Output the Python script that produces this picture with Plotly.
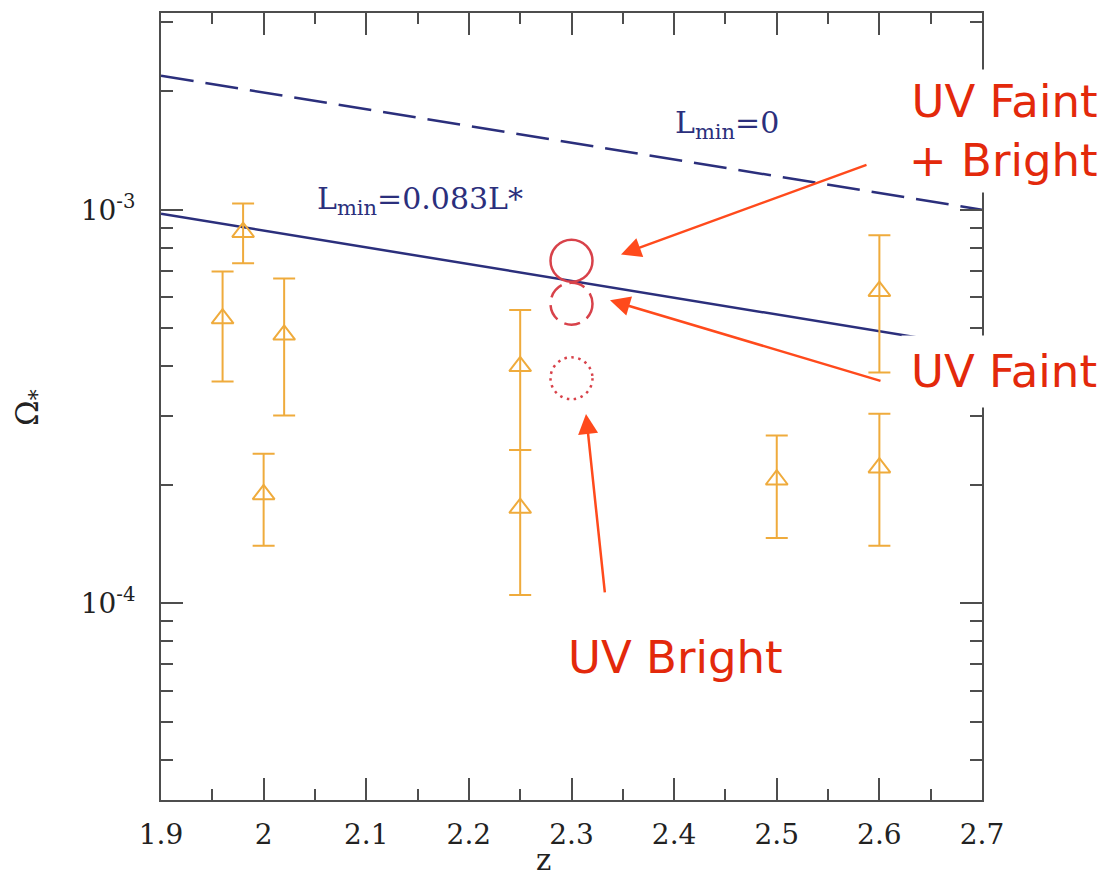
import plotly.graph_objects as go

# Stellar mass density measurements: redshift, Omega_*, and error-bar extents
obs_z = [1.96, 1.98, 2.00, 2.02, 2.25, 2.25, 2.50, 2.60, 2.60]
obs_omega = [5.29e-4, 8.77e-4, 1.89e-4, 4.81e-4, 4.00e-4, 1.745e-4, 2.06e-4, 6.21e-4, 2.21e-4]
obs_upper = [6.97e-4, 1.037e-3, 2.40e-4, 6.69e-4, 5.56e-4, 2.45e-4, 2.67e-4, 8.62e-4, 3.03e-4]
obs_lower = [3.66e-4, 7.31e-4, 1.40e-4, 3.00e-4, 2.45e-4, 1.05e-4, 1.466e-4, 3.86e-4, 1.40e-4]

# Model curves
model_z = [1.9, 2.7]
omega_lmin_0 = [2.19e-3, 1.00e-3]
omega_lmin_083 = [9.77e-4, 4.45e-4]

# UV-selected samples at z = 2.3
uv_z = 2.3
uv_faint_bright = 7.42e-4
uv_faint = 5.77e-4
uv_bright = 3.73e-4

# Axis ticks
x_tickvals = [1.9, 2.0, 2.1, 2.2, 2.3, 2.4, 2.5, 2.6, 2.7]
x_ticktext = ["1.9", "2", "2.1", "2.2", "2.3", "2.4", "2.5", "2.6", "2.7"]
x_minor = [1.95, 2.05, 2.15, 2.25, 2.35, 2.45, 2.55, 2.65]
y_tickvals = [1e-4, 1e-3]
y_ticktext = ["10<sup>-4</sup>", "10<sup>-3</sup>"]
y_minor = [4e-5, 5e-5, 6e-5, 7e-5, 8e-5, 9e-5,
           2e-4, 3e-4, 4e-4, 5e-4, 6e-4, 7e-4, 8e-4, 9e-4,
           2e-3, 3e-3]

NAVY = "#2b2f7c"
ORANGE = "#efab3c"
CIRCLE_RED = "#d8424a"
TEXT_RED = "#e3290b"
ARROW_RED = "#ff4a1c"
FRAME = "#4d4d4d"
SERIF = "DejaVu Serif"
SANS = "DejaVu Sans"

W, H = 1107, 879
L, R, T, B = 161, 125, 11, 79
Y_LOG_RANGE = [-4.5, -2.5]
CIRCLE_R = 21  # circle radius, px


def px_x(p):
    return (p - L) / (W - L - R)


def px_y(p):
    return (H - B - p) / (H - T - B)


# pixels per decade on the log y axis, used to size the circles in data units
decade_px = (H - T - B) / (Y_LOG_RANGE[1] - Y_LOG_RANGE[0])
circle_factor = 10 ** (CIRCLE_R / decade_px)

err_plus = [u - v for u, v in zip(obs_upper, obs_omega)]
err_minus = [v - d for v, d in zip(obs_omega, obs_lower)]

fig = go.Figure()

fig.add_trace(go.Scatter(
    x=model_z, y=omega_lmin_0, mode="lines",
    line=dict(color=NAVY, width=2.5, dash="33px,12px"),
    hoverinfo="skip", showlegend=False,
))
fig.add_trace(go.Scatter(
    x=model_z, y=omega_lmin_083, mode="lines",
    line=dict(color=NAVY, width=2.5),
    hoverinfo="skip", showlegend=False,
))
fig.add_trace(go.Scatter(
    x=obs_z, y=obs_omega, mode="markers",
    marker=dict(symbol="triangle-up-open", size=19, color=ORANGE,
                line=dict(color=ORANGE, width=2)),
    error_y=dict(type="data", symmetric=False, array=err_plus,
                 arrayminus=err_minus, color=ORANGE, thickness=2, width=11),
    showlegend=False,
))

# UV sample circles centred on their data values
for val, dash in [(uv_faint_bright, "solid"), (uv_faint, "16px,8px"),
                  (uv_bright, "2.5px,4.5px")]:
    fig.add_shape(
        type="circle", xref="x", yref="y",
        xsizemode="pixel", xanchor=uv_z,
        x0=-CIRCLE_R, x1=CIRCLE_R,
        y0=val / circle_factor, y1=val * circle_factor,
        line=dict(color=CIRCLE_RED, width=2.5, dash=dash),
    )

annotations = [
    # model labels
    dict(text="L<sub>min</sub>=0", x=px_x(673), y=px_y(123),
         xanchor="left", yanchor="middle",
         font=dict(family=SERIF, size=30, color=NAVY)),
    dict(text="L<sub>min</sub>=0.083L*", x=px_x(315), y=px_y(199),
         xanchor="left", yanchor="middle",
         font=dict(family=SERIF, size=30, color=NAVY)),
    # axis titles
    dict(text="z", x=px_x(543), y=0, yshift=-B,
         xanchor="center", yanchor="bottom",
         font=dict(family=SERIF, size=29, color="#222222")),
    dict(text="Ω<sub>*</sub>", x=px_x(30), y=px_y(407), textangle=-90,
         xanchor="center", yanchor="middle",
         font=dict(family=SERIF, size=31, color="#222222")),
    # sample labels
    dict(text="UV Faint<br>+ Bright", x=px_x(1003), y=px_y(129),
         xanchor="center", yanchor="middle", align="right",
         bgcolor="white", borderpad=5,
         font=dict(family=SANS, size=45, color=TEXT_RED)),
    dict(text="UV Faint", x=px_x(1004), y=px_y(370),
         xanchor="center", yanchor="middle",
         bgcolor="white", borderpad=9,
         font=dict(family=SANS, size=45, color=TEXT_RED)),
    dict(text="UV Bright", x=px_x(675), y=px_y(657),
         xanchor="center", yanchor="middle",
         font=dict(family=SANS, size=45, color=TEXT_RED)),
]

# pointer arrows: (tip x, tip y, tail offset x, tail offset y) in pixels
arrows = [(621, 253, 247, -90), (610, 299, 272, 81), (586, 413, 19, 180)]
for tx, ty, ax, ay in arrows:
    annotations.append(dict(
        text="", x=px_x(tx), y=px_y(ty), ax=ax, ay=ay,
        showarrow=True, arrowhead=2, arrowsize=1.6, arrowwidth=2.5,
        arrowcolor=ARROW_RED, standoff=0,
    ))

for a in annotations:
    a.setdefault("xref", "paper")
    a.setdefault("yref", "paper")
    a.setdefault("showarrow", False)

axis_common = dict(
    showline=True, linecolor=FRAME, linewidth=2, mirror="allticks",
    ticks="inside", tickcolor=FRAME, tickwidth=2, ticklen=22,
    showgrid=False, zeroline=False,
    tickfont=dict(family=SERIF, size=28, color="#222222"),
)

fig.update_layout(
    width=W, height=H,
    margin=dict(l=L, r=R, t=T, b=B),
    paper_bgcolor="white", plot_bgcolor="white",
    showlegend=False,
    xaxis=dict(
        range=[1.9, 2.7], tickmode="array",
        tickvals=x_tickvals, ticktext=x_ticktext,
        minor=dict(ticks="inside", ticklen=11, tickwidth=2, tickcolor=FRAME,
                   tickmode="array", tickvals=x_minor, showgrid=False),
        ticklabelstandoff=8,
        **axis_common,
    ),
    yaxis=dict(
        type="log", range=Y_LOG_RANGE, tickmode="array",
        tickvals=y_tickvals, ticktext=y_ticktext,
        minor=dict(ticks="inside", ticklen=12, tickwidth=2, tickcolor=FRAME,
                   tickmode="array", tickvals=y_minor, showgrid=False),
        ticklabelstandoff=18,
        **axis_common,
    ),
    annotations=annotations,
)

fig.write_html("out.html")
